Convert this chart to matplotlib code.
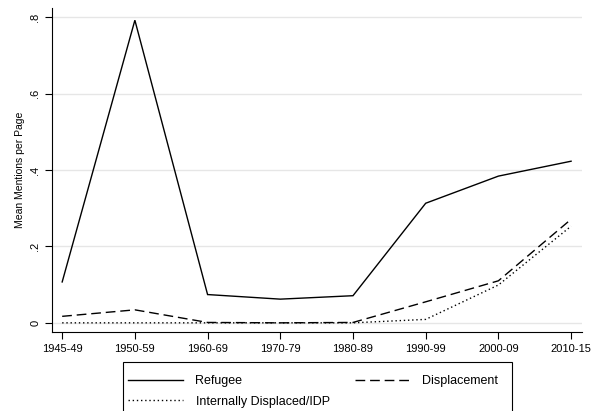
import numpy as np
import matplotlib.pyplot as plt
from matplotlib.patches import Rectangle

plt.rcParams['font.family'] = ['Liberation Sans Narrow', 'Liberation Sans', 'DejaVu Sans']

decades = ['1945-49', '1950-59', '1960-69', '1970-79', '1980-89', '1990-99', '2000-09', '2010-15']
refugee = [0.107, 0.792, 0.074, 0.062, 0.071, 0.313, 0.384, 0.423]
displacement = [0.017, 0.034, 0.001, 0.000, 0.001, 0.055, 0.110, 0.271]
idp = [0.000, 0.000, 0.000, 0.000, 0.000, 0.009, 0.099, 0.253]

W, H = 597, 411
fig = plt.figure(figsize=(W / 100, H / 100), dpi=100)
ax = fig.add_axes([52/W, 1 - 332/H, 530/W, 324/H])

x = np.arange(len(decades))
l1, = ax.plot(x, refugee, color='black', lw=1.0, solid_joinstyle='miter')
l2, = ax.plot(x, displacement, color='black', lw=1.0, dashes=(7, 3.5))
l3, = ax.plot(x, idp, color='black', lw=1.0, dashes=(1, 2))

ax.set_xlim(-0.14, 7.15)
ax.set_ylim(-0.024, 0.824)
ax.set_xticks(x)
ax.set_xticklabels(decades, fontsize=8)
ax.set_yticks([0, 0.2, 0.4, 0.6, 0.8])
ax.set_yticklabels(['0', '.2', '.4', '.6', '.8'], fontsize=8, rotation=90, va='center')
ax.set_ylabel('Mean Mentions per Page', fontsize=7.5, labelpad=4)
ax.tick_params(length=5, width=0.8, color='black')
ax.grid(axis='y', color='#e6e6e6', lw=1.0)
ax.set_axisbelow(True)
for s in ['top', 'right']:
    ax.spines[s].set_visible(False)
for s in ['left', 'bottom']:
    ax.spines[s].set_linewidth(0.8)

# legend filled column-wise, so order gives Refugee/Displacement on the first row
leg = fig.legend([l1, l3, l2], ['Refugee', 'Internally Displaced/IDP', 'Displacement'],
                 ncol=2, loc='upper left', bbox_to_anchor=(128/W, 1 - 375/H),
                 borderaxespad=0, fontsize=9, frameon=False,
                 handlelength=4.4, handletextpad=1.0,
                 columnspacing=2.0, borderpad=0.0, labelspacing=0.7)

# legend frame runs off the bottom of the figure
fig.add_artist(Rectangle((123/W, -0.05), (512 - 123)/W, 0.05 + (411 - 362)/H,
                         transform=fig.transFigure, fill=False,
                         edgecolor='black', lw=0.8))

fig.savefig('out.png', dpi=100)
